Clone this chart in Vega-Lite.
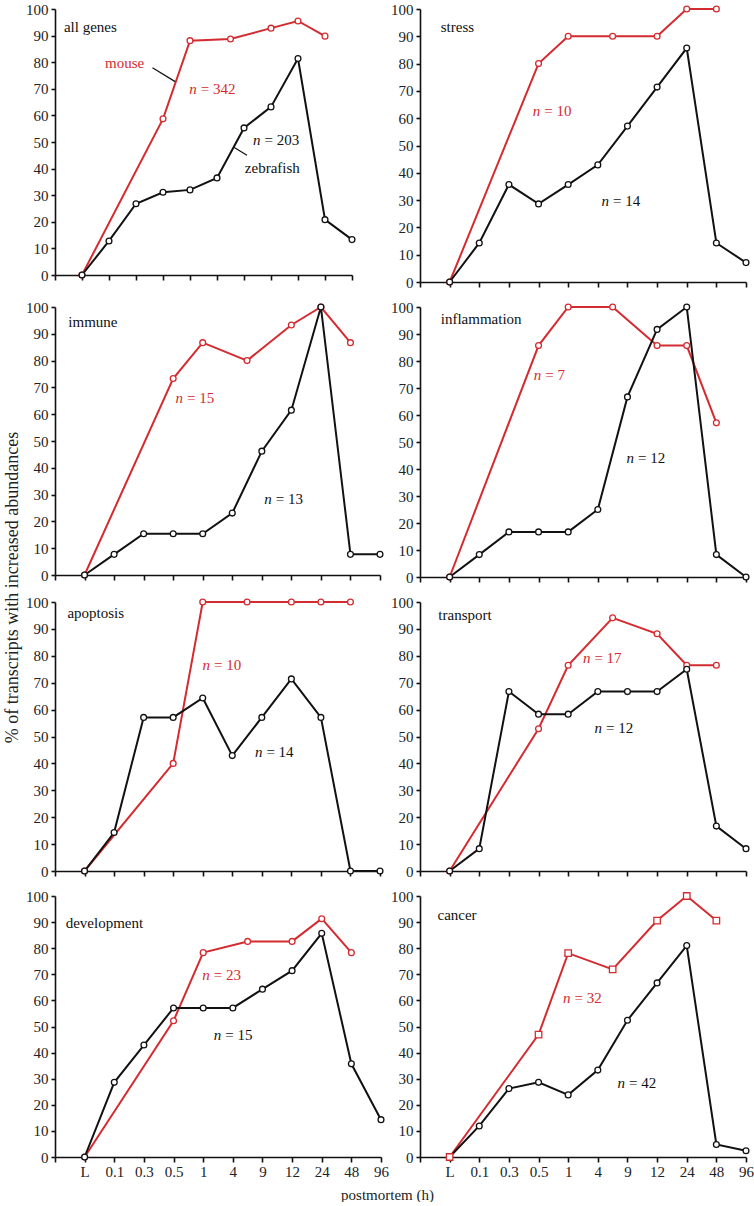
{
"$schema":"https://vega.github.io/schema/vega-lite/v6.json",
"padding":{"left":3,"top":2,"right":0,"bottom":0},
"config":{"font":"Liberation Serif","view":{"stroke":null},
"axis":{"domainColor":"#111","domainWidth":1.6,"tickColor":"#111","tickWidth":1.6,"labelFont":"Liberation Serif","labelFontSize":15,"labelColor":"#222","grid":false,"titleFont":"Liberation Serif","titleFontWeight":"normal","titleColor":"#222"}},
"datasets":{
"series":[
{"panel":"all genes","species":"mouse","pos":1,"pct":0},{"panel":"all genes","species":"mouse","pos":4,"pct":58.7},{"panel":"all genes","species":"mouse","pos":5,"pct":88.1},{"panel":"all genes","species":"mouse","pos":6.5,"pct":88.7},{"panel":"all genes","species":"mouse","pos":8,"pct":92.8},{"panel":"all genes","species":"mouse","pos":9,"pct":95.5},{"panel":"all genes","species":"mouse","pos":10,"pct":89.8},
{"panel":"all genes","species":"zebrafish","pos":1,"pct":0},{"panel":"all genes","species":"zebrafish","pos":2,"pct":12.8},{"panel":"all genes","species":"zebrafish","pos":3,"pct":26.8},{"panel":"all genes","species":"zebrafish","pos":4,"pct":31.1},{"panel":"all genes","species":"zebrafish","pos":5,"pct":32.0},{"panel":"all genes","species":"zebrafish","pos":6,"pct":36.5},{"panel":"all genes","species":"zebrafish","pos":7,"pct":55.3},{"panel":"all genes","species":"zebrafish","pos":8,"pct":63.2},{"panel":"all genes","species":"zebrafish","pos":9,"pct":81.4},{"panel":"all genes","species":"zebrafish","pos":10,"pct":20.8},{"panel":"all genes","species":"zebrafish","pos":11,"pct":13.3},
{"panel":"stress","species":"mouse","pos":1,"pct":0},{"panel":"stress","species":"mouse","pos":4,"pct":80},{"panel":"stress","species":"mouse","pos":5,"pct":90},{"panel":"stress","species":"mouse","pos":6.5,"pct":90},{"panel":"stress","species":"mouse","pos":8,"pct":90},{"panel":"stress","species":"mouse","pos":9,"pct":100},{"panel":"stress","species":"mouse","pos":10,"pct":100},
{"panel":"stress","species":"zebrafish","pos":1,"pct":0},{"panel":"stress","species":"zebrafish","pos":2,"pct":14.3},{"panel":"stress","species":"zebrafish","pos":3,"pct":35.7},{"panel":"stress","species":"zebrafish","pos":4,"pct":28.6},{"panel":"stress","species":"zebrafish","pos":5,"pct":35.7},{"panel":"stress","species":"zebrafish","pos":6,"pct":42.9},{"panel":"stress","species":"zebrafish","pos":7,"pct":57.1},{"panel":"stress","species":"zebrafish","pos":8,"pct":71.4},{"panel":"stress","species":"zebrafish","pos":9,"pct":85.7},{"panel":"stress","species":"zebrafish","pos":10,"pct":14.3},{"panel":"stress","species":"zebrafish","pos":11,"pct":7.1},
{"panel":"immune","species":"mouse","pos":1,"pct":0},{"panel":"immune","species":"mouse","pos":4,"pct":73.3},{"panel":"immune","species":"mouse","pos":5,"pct":86.7},{"panel":"immune","species":"mouse","pos":6.5,"pct":80},{"panel":"immune","species":"mouse","pos":8,"pct":93.3},{"panel":"immune","species":"mouse","pos":9,"pct":100},{"panel":"immune","species":"mouse","pos":10,"pct":86.7},
{"panel":"immune","species":"zebrafish","pos":1,"pct":0},{"panel":"immune","species":"zebrafish","pos":2,"pct":7.7},{"panel":"immune","species":"zebrafish","pos":3,"pct":15.4},{"panel":"immune","species":"zebrafish","pos":4,"pct":15.4},{"panel":"immune","species":"zebrafish","pos":5,"pct":15.4},{"panel":"immune","species":"zebrafish","pos":6,"pct":23.1},{"panel":"immune","species":"zebrafish","pos":7,"pct":46.2},{"panel":"immune","species":"zebrafish","pos":8,"pct":61.5},{"panel":"immune","species":"zebrafish","pos":9,"pct":100},{"panel":"immune","species":"zebrafish","pos":10,"pct":7.7},{"panel":"immune","species":"zebrafish","pos":11,"pct":7.7},
{"panel":"inflammation","species":"mouse","pos":1,"pct":0},{"panel":"inflammation","species":"mouse","pos":4,"pct":85.7},{"panel":"inflammation","species":"mouse","pos":5,"pct":100},{"panel":"inflammation","species":"mouse","pos":6.5,"pct":100},{"panel":"inflammation","species":"mouse","pos":8,"pct":85.7},{"panel":"inflammation","species":"mouse","pos":9,"pct":85.7},{"panel":"inflammation","species":"mouse","pos":10,"pct":57.1},
{"panel":"inflammation","species":"zebrafish","pos":1,"pct":0},{"panel":"inflammation","species":"zebrafish","pos":2,"pct":8.3},{"panel":"inflammation","species":"zebrafish","pos":3,"pct":16.7},{"panel":"inflammation","species":"zebrafish","pos":4,"pct":16.7},{"panel":"inflammation","species":"zebrafish","pos":5,"pct":16.7},{"panel":"inflammation","species":"zebrafish","pos":6,"pct":25},{"panel":"inflammation","species":"zebrafish","pos":7,"pct":66.7},{"panel":"inflammation","species":"zebrafish","pos":8,"pct":91.7},{"panel":"inflammation","species":"zebrafish","pos":9,"pct":100},{"panel":"inflammation","species":"zebrafish","pos":10,"pct":8.3},{"panel":"inflammation","species":"zebrafish","pos":11,"pct":0},
{"panel":"apoptosis","species":"mouse","pos":1,"pct":0},{"panel":"apoptosis","species":"mouse","pos":4,"pct":40},{"panel":"apoptosis","species":"mouse","pos":5,"pct":100},{"panel":"apoptosis","species":"mouse","pos":6.5,"pct":100},{"panel":"apoptosis","species":"mouse","pos":8,"pct":100},{"panel":"apoptosis","species":"mouse","pos":9,"pct":100},{"panel":"apoptosis","species":"mouse","pos":10,"pct":100},
{"panel":"apoptosis","species":"zebrafish","pos":1,"pct":0},{"panel":"apoptosis","species":"zebrafish","pos":2,"pct":14.3},{"panel":"apoptosis","species":"zebrafish","pos":3,"pct":57.1},{"panel":"apoptosis","species":"zebrafish","pos":4,"pct":57.1},{"panel":"apoptosis","species":"zebrafish","pos":5,"pct":64.3},{"panel":"apoptosis","species":"zebrafish","pos":6,"pct":42.9},{"panel":"apoptosis","species":"zebrafish","pos":7,"pct":57.1},{"panel":"apoptosis","species":"zebrafish","pos":8,"pct":71.4},{"panel":"apoptosis","species":"zebrafish","pos":9,"pct":57.1},{"panel":"apoptosis","species":"zebrafish","pos":10,"pct":0},{"panel":"apoptosis","species":"zebrafish","pos":11,"pct":0},
{"panel":"transport","species":"mouse","pos":1,"pct":0},{"panel":"transport","species":"mouse","pos":4,"pct":52.9},{"panel":"transport","species":"mouse","pos":5,"pct":76.5},{"panel":"transport","species":"mouse","pos":6.5,"pct":94.1},{"panel":"transport","species":"mouse","pos":8,"pct":88.2},{"panel":"transport","species":"mouse","pos":9,"pct":76.5},{"panel":"transport","species":"mouse","pos":10,"pct":76.5},
{"panel":"transport","species":"zebrafish","pos":1,"pct":0},{"panel":"transport","species":"zebrafish","pos":2,"pct":8.3},{"panel":"transport","species":"zebrafish","pos":3,"pct":66.7},{"panel":"transport","species":"zebrafish","pos":4,"pct":58.3},{"panel":"transport","species":"zebrafish","pos":5,"pct":58.3},{"panel":"transport","species":"zebrafish","pos":6,"pct":66.7},{"panel":"transport","species":"zebrafish","pos":7,"pct":66.7},{"panel":"transport","species":"zebrafish","pos":8,"pct":66.7},{"panel":"transport","species":"zebrafish","pos":9,"pct":75},{"panel":"transport","species":"zebrafish","pos":10,"pct":16.7},{"panel":"transport","species":"zebrafish","pos":11,"pct":8.3},
{"panel":"development","species":"mouse","pos":1,"pct":0},{"panel":"development","species":"mouse","pos":4,"pct":52.2},{"panel":"development","species":"mouse","pos":5,"pct":78.3},{"panel":"development","species":"mouse","pos":6.5,"pct":82.6},{"panel":"development","species":"mouse","pos":8,"pct":82.6},{"panel":"development","species":"mouse","pos":9,"pct":91.3},{"panel":"development","species":"mouse","pos":10,"pct":78.3},
{"panel":"development","species":"zebrafish","pos":1,"pct":0},{"panel":"development","species":"zebrafish","pos":2,"pct":28.6},{"panel":"development","species":"zebrafish","pos":3,"pct":42.9},{"panel":"development","species":"zebrafish","pos":4,"pct":57.1},{"panel":"development","species":"zebrafish","pos":5,"pct":57.1},{"panel":"development","species":"zebrafish","pos":6,"pct":57.1},{"panel":"development","species":"zebrafish","pos":7,"pct":64.3},{"panel":"development","species":"zebrafish","pos":8,"pct":71.4},{"panel":"development","species":"zebrafish","pos":9,"pct":85.7},{"panel":"development","species":"zebrafish","pos":10,"pct":35.7},{"panel":"development","species":"zebrafish","pos":11,"pct":14.3},
{"panel":"cancer","species":"mouse","pos":1,"pct":0},{"panel":"cancer","species":"mouse","pos":4,"pct":46.9},{"panel":"cancer","species":"mouse","pos":5,"pct":78.1},{"panel":"cancer","species":"mouse","pos":6.5,"pct":71.9},{"panel":"cancer","species":"mouse","pos":8,"pct":90.6},{"panel":"cancer","species":"mouse","pos":9,"pct":100},{"panel":"cancer","species":"mouse","pos":10,"pct":90.6},
{"panel":"cancer","species":"zebrafish","pos":1,"pct":0},{"panel":"cancer","species":"zebrafish","pos":2,"pct":11.9},{"panel":"cancer","species":"zebrafish","pos":3,"pct":26.2},{"panel":"cancer","species":"zebrafish","pos":4,"pct":28.6},{"panel":"cancer","species":"zebrafish","pos":5,"pct":23.8},{"panel":"cancer","species":"zebrafish","pos":6,"pct":33.3},{"panel":"cancer","species":"zebrafish","pos":7,"pct":52.4},{"panel":"cancer","species":"zebrafish","pos":8,"pct":66.7},{"panel":"cancer","species":"zebrafish","pos":9,"pct":81.0},{"panel":"cancer","species":"zebrafish","pos":10,"pct":4.8},{"panel":"cancer","species":"zebrafish","pos":11,"pct":2.4}
],
"labels":[
{"panel":"all genes","kind":"title","species":"none","pos":0.33,"pct":93.3,"text":"all genes"},
{"panel":"stress","kind":"title","species":"none","pos":0.70,"pct":93.5,"text":"stress"},
{"panel":"immune","kind":"title","species":"none","pos":0.45,"pct":94.5,"text":"immune"},
{"panel":"inflammation","kind":"title","species":"none","pos":0.70,"pct":95.7,"text":"inflammation"},
{"panel":"apoptosis","kind":"title","species":"none","pos":0.42,"pct":95.8,"text":"apoptosis"},
{"panel":"transport","kind":"title","species":"none","pos":0.62,"pct":95.3,"text":"transport"},
{"panel":"development","kind":"title","species":"none","pos":0.36,"pct":89.7,"text":"development"},
{"panel":"cancer","kind":"title","species":"none","pos":0.59,"pct":92.6,"text":"cancer"},
{"panel":"all genes","kind":"n","species":"mouse","pos":5.25,"pct":69.9,"text":"= 342"},
{"panel":"all genes","kind":"n","species":"zebrafish","pos":7.61,"pct":50.9,"text":"= 203"},
{"panel":"stress","kind":"n","species":"mouse","pos":4.06,"pct":62.5,"text":"= 10"},
{"panel":"stress","kind":"n","species":"zebrafish","pos":6.38,"pct":29.6,"text":"= 14"},
{"panel":"immune","kind":"n","species":"mouse","pos":4.33,"pct":66,"text":"= 15"},
{"panel":"immune","kind":"n","species":"zebrafish","pos":7.34,"pct":28.3,"text":"= 13"},
{"panel":"inflammation","kind":"n","species":"mouse","pos":4.09,"pct":74.8,"text":"= 7"},
{"panel":"inflammation","kind":"n","species":"zebrafish","pos":7.22,"pct":44.2,"text":"= 12"},
{"panel":"apoptosis","kind":"n","species":"mouse","pos":5.25,"pct":76.5,"text":"= 10"},
{"panel":"apoptosis","kind":"n","species":"zebrafish","pos":7.02,"pct":44.2,"text":"= 14"},
{"panel":"transport","kind":"n","species":"mouse","pos":5.75,"pct":79.1,"text":"= 17"},
{"panel":"transport","kind":"n","species":"zebrafish","pos":6.14,"pct":53.3,"text":"= 12"},
{"panel":"development","kind":"n","species":"mouse","pos":5.22,"pct":69.9,"text":"= 23"},
{"panel":"development","kind":"n","species":"zebrafish","pos":5.61,"pct":46.6,"text":"= 15"},
{"panel":"cancer","kind":"n","species":"mouse","pos":5.08,"pct":60.8,"text":"= 32"},
{"panel":"cancer","kind":"n","species":"zebrafish","pos":6.92,"pct":28.4,"text":"= 42"},
{"panel":"all genes","kind":"name","species":"mouse","pos":2.58,"pct":79.8,"text":"mouse"},
{"panel":"all genes","kind":"name","species":"zebrafish","pos":8.05,"pct":40.1,"text":"zebrafish"}
],
"leaders":[
{"panel":"all genes","pos":3.61,"pct":77.9,"pos2":4.45,"pct2":72.7},
{"panel":"all genes","pos":6.64,"pct":47.9,"pos2":7.11,"pct2":45.0}
]
},
"columns":2,
"spacing":{"row":25,"column":39},
"bounds":"flush",
"concat":[
{"width":297,"height":266,
"encoding":{"x":{"field":"pos","type":"quantitative","scale":{"domain":[0,11],"nice":false,"zero":false},"axis":{"values":[0,1,2,3,4,5,6,7,8,9,10,11],"labels":false,"title":null,"tickSize":5}},
"y":{"field":"pct","type":"quantitative","scale":{"domain":[0,100],"nice":false},"axis":{"values":[0,10,20,30,40,50,60,70,80,90,100],"title":null,"tickSize":4,"labelPadding":3}}},
"layer":[
{"data":{"name":"series"},"transform":[{"filter":"datum.panel==='all genes'"}],"mark":{"type":"line","strokeWidth":2},"encoding":{"color":{"field":"species","type":"nominal","scale":{"domain":["mouse","zebrafish"],"range":["#d42b30","#111111"]},"legend":null}}},
{"data":{"name":"series"},"transform":[{"filter":"datum.panel==='all genes'"}],"mark":{"type":"point","shape":"circle","filled":false,"fill":"white","fillOpacity":1,"size":34,"strokeWidth":1.3,"opacity":1},"encoding":{"color":{"field":"species","type":"nominal","legend":null}}},
{"data":{"name":"labels"},"transform":[{"filter":"datum.panel==='all genes' && datum.kind==='title'"}],"mark":{"type":"text","align":"left","baseline":"middle","fontSize":15,"color":"#111"},"encoding":{"text":{"field":"text"}}},
{"data":{"name":"labels"},"transform":[{"filter":"datum.panel==='all genes' && datum.kind==='name'"}],"mark":{"type":"text","align":"center","baseline":"middle","fontSize":15},"encoding":{"text":{"field":"text"},"color":{"field":"species","type":"nominal","legend":null}}},
{"data":{"name":"labels"},"transform":[{"filter":"datum.panel==='all genes' && datum.kind==='n'"}],"mark":{"type":"text","align":"right","baseline":"middle","fontSize":15,"fontStyle":"italic"},"encoding":{"text":{"value":"n"},"color":{"field":"species","type":"nominal","legend":null}}},
{"data":{"name":"labels"},"transform":[{"filter":"datum.panel==='all genes' && datum.kind==='n'"}],"mark":{"type":"text","align":"left","baseline":"middle","fontSize":15,"dx":4},"encoding":{"text":{"field":"text"},"color":{"field":"species","type":"nominal","legend":null}}},
{"data":{"name":"leaders"},"transform":[{"filter":"datum.panel==='all genes'"}],"mark":{"type":"rule","strokeWidth":1.2,"color":"#111"},"encoding":{"x2":{"field":"pos2"},"y2":{"field":"pct2"}}}
]},
{"width":326,"height":273,
"encoding":{"x":{"field":"pos","type":"quantitative","scale":{"domain":[0,11],"nice":false,"zero":false},"axis":{"values":[0,1,2,3,4,5,6,7,8,9,10,11],"labels":false,"title":null,"tickSize":5}},
"y":{"field":"pct","type":"quantitative","scale":{"domain":[0,100],"nice":false},"axis":{"values":[0,10,20,30,40,50,60,70,80,90,100],"title":null,"tickSize":4,"labelPadding":3}}},
"layer":[
{"data":{"name":"series"},"transform":[{"filter":"datum.panel==='stress'"}],"mark":{"type":"line","strokeWidth":2},"encoding":{"color":{"field":"species","type":"nominal","scale":{"domain":["mouse","zebrafish"],"range":["#d42b30","#111111"]},"legend":null}}},
{"data":{"name":"series"},"transform":[{"filter":"datum.panel==='stress'"}],"mark":{"type":"point","shape":"circle","filled":false,"fill":"white","fillOpacity":1,"size":34,"strokeWidth":1.3,"opacity":1},"encoding":{"color":{"field":"species","type":"nominal","legend":null}}},
{"data":{"name":"labels"},"transform":[{"filter":"datum.panel==='stress' && datum.kind==='title'"}],"mark":{"type":"text","align":"left","baseline":"middle","fontSize":15,"color":"#111"},"encoding":{"text":{"field":"text"}}},
{"data":{"name":"labels"},"transform":[{"filter":"datum.panel==='stress' && datum.kind==='n'"}],"mark":{"type":"text","align":"right","baseline":"middle","fontSize":15,"fontStyle":"italic"},"encoding":{"text":{"value":"n"},"color":{"field":"species","type":"nominal","legend":null}}},
{"data":{"name":"labels"},"transform":[{"filter":"datum.panel==='stress' && datum.kind==='n'"}],"mark":{"type":"text","align":"left","baseline":"middle","fontSize":15,"dx":4},"encoding":{"text":{"field":"text"},"color":{"field":"species","type":"nominal","legend":null}}}
]},
{"width":325,"height":268,
"encoding":{"x":{"field":"pos","type":"quantitative","scale":{"domain":[0,11],"nice":false,"zero":false},"axis":{"values":[0,1,2,3,4,5,6,7,8,9,10,11],"labels":false,"title":null,"tickSize":5}},
"y":{"field":"pct","type":"quantitative","scale":{"domain":[0,100],"nice":false},"axis":{"values":[0,10,20,30,40,50,60,70,80,90,100],"title":null,"tickSize":4,"labelPadding":3}}},
"layer":[
{"data":{"name":"series"},"transform":[{"filter":"datum.panel==='immune'"}],"mark":{"type":"line","strokeWidth":2},"encoding":{"color":{"field":"species","type":"nominal","scale":{"domain":["mouse","zebrafish"],"range":["#d42b30","#111111"]},"legend":null}}},
{"data":{"name":"series"},"transform":[{"filter":"datum.panel==='immune'"}],"mark":{"type":"point","shape":"circle","filled":false,"fill":"white","fillOpacity":1,"size":34,"strokeWidth":1.3,"opacity":1},"encoding":{"color":{"field":"species","type":"nominal","legend":null}}},
{"data":{"name":"labels"},"transform":[{"filter":"datum.panel==='immune' && datum.kind==='title'"}],"mark":{"type":"text","align":"left","baseline":"middle","fontSize":15,"color":"#111"},"encoding":{"text":{"field":"text"}}},
{"data":{"name":"labels"},"transform":[{"filter":"datum.panel==='immune' && datum.kind==='n'"}],"mark":{"type":"text","align":"right","baseline":"middle","fontSize":15,"fontStyle":"italic"},"encoding":{"text":{"value":"n"},"color":{"field":"species","type":"nominal","legend":null}}},
{"data":{"name":"labels"},"transform":[{"filter":"datum.panel==='immune' && datum.kind==='n'"}],"mark":{"type":"text","align":"left","baseline":"middle","fontSize":15,"dx":4},"encoding":{"text":{"field":"text"},"color":{"field":"species","type":"nominal","legend":null}}}
]},
{"width":326,"height":270,
"encoding":{"x":{"field":"pos","type":"quantitative","scale":{"domain":[0,11],"nice":false,"zero":false},"axis":{"values":[0,1,2,3,4,5,6,7,8,9,10,11],"labels":false,"title":null,"tickSize":5}},
"y":{"field":"pct","type":"quantitative","scale":{"domain":[0,100],"nice":false},"axis":{"values":[0,10,20,30,40,50,60,70,80,90,100],"title":null,"tickSize":4,"labelPadding":3}}},
"layer":[
{"data":{"name":"series"},"transform":[{"filter":"datum.panel==='inflammation'"}],"mark":{"type":"line","strokeWidth":2},"encoding":{"color":{"field":"species","type":"nominal","scale":{"domain":["mouse","zebrafish"],"range":["#d42b30","#111111"]},"legend":null}}},
{"data":{"name":"series"},"transform":[{"filter":"datum.panel==='inflammation'"}],"mark":{"type":"point","shape":"circle","filled":false,"fill":"white","fillOpacity":1,"size":34,"strokeWidth":1.3,"opacity":1},"encoding":{"color":{"field":"species","type":"nominal","legend":null}}},
{"data":{"name":"labels"},"transform":[{"filter":"datum.panel==='inflammation' && datum.kind==='title'"}],"mark":{"type":"text","align":"left","baseline":"middle","fontSize":15,"color":"#111"},"encoding":{"text":{"field":"text"}}},
{"data":{"name":"labels"},"transform":[{"filter":"datum.panel==='inflammation' && datum.kind==='n'"}],"mark":{"type":"text","align":"right","baseline":"middle","fontSize":15,"fontStyle":"italic"},"encoding":{"text":{"value":"n"},"color":{"field":"species","type":"nominal","legend":null}}},
{"data":{"name":"labels"},"transform":[{"filter":"datum.panel==='inflammation' && datum.kind==='n'"}],"mark":{"type":"text","align":"left","baseline":"middle","fontSize":15,"dx":4},"encoding":{"text":{"field":"text"},"color":{"field":"species","type":"nominal","legend":null}}}
]},
{"width":325,"height":269,
"encoding":{"x":{"field":"pos","type":"quantitative","scale":{"domain":[0,11],"nice":false,"zero":false},"axis":{"values":[0,1,2,3,4,5,6,7,8,9,10,11],"labels":false,"title":null,"tickSize":5}},
"y":{"field":"pct","type":"quantitative","scale":{"domain":[0,100],"nice":false},"axis":{"values":[0,10,20,30,40,50,60,70,80,90,100],"title":"% of transcripts with increased abundances","titleFontSize":18,"titleY":-15,"titlePadding":4,"tickSize":4,"labelPadding":3}}},
"layer":[
{"data":{"name":"series"},"transform":[{"filter":"datum.panel==='apoptosis'"}],"mark":{"type":"line","strokeWidth":2},"encoding":{"color":{"field":"species","type":"nominal","scale":{"domain":["mouse","zebrafish"],"range":["#d42b30","#111111"]},"legend":null}}},
{"data":{"name":"series"},"transform":[{"filter":"datum.panel==='apoptosis'"}],"mark":{"type":"point","shape":"circle","filled":false,"fill":"white","fillOpacity":1,"size":34,"strokeWidth":1.3,"opacity":1},"encoding":{"color":{"field":"species","type":"nominal","legend":null}}},
{"data":{"name":"labels"},"transform":[{"filter":"datum.panel==='apoptosis' && datum.kind==='title'"}],"mark":{"type":"text","align":"left","baseline":"middle","fontSize":15,"color":"#111"},"encoding":{"text":{"field":"text"}}},
{"data":{"name":"labels"},"transform":[{"filter":"datum.panel==='apoptosis' && datum.kind==='n'"}],"mark":{"type":"text","align":"right","baseline":"middle","fontSize":15,"fontStyle":"italic"},"encoding":{"text":{"value":"n"},"color":{"field":"species","type":"nominal","legend":null}}},
{"data":{"name":"labels"},"transform":[{"filter":"datum.panel==='apoptosis' && datum.kind==='n'"}],"mark":{"type":"text","align":"left","baseline":"middle","fontSize":15,"dx":4},"encoding":{"text":{"field":"text"},"color":{"field":"species","type":"nominal","legend":null}}}
]},
{"width":326,"height":269,
"encoding":{"x":{"field":"pos","type":"quantitative","scale":{"domain":[0,11],"nice":false,"zero":false},"axis":{"values":[0,1,2,3,4,5,6,7,8,9,10,11],"labels":false,"title":null,"tickSize":5}},
"y":{"field":"pct","type":"quantitative","scale":{"domain":[0,100],"nice":false},"axis":{"values":[0,10,20,30,40,50,60,70,80,90,100],"title":null,"tickSize":4,"labelPadding":3}}},
"layer":[
{"data":{"name":"series"},"transform":[{"filter":"datum.panel==='transport'"}],"mark":{"type":"line","strokeWidth":2},"encoding":{"color":{"field":"species","type":"nominal","scale":{"domain":["mouse","zebrafish"],"range":["#d42b30","#111111"]},"legend":null}}},
{"data":{"name":"series"},"transform":[{"filter":"datum.panel==='transport'"}],"mark":{"type":"point","shape":"circle","filled":false,"fill":"white","fillOpacity":1,"size":34,"strokeWidth":1.3,"opacity":1},"encoding":{"color":{"field":"species","type":"nominal","legend":null}}},
{"data":{"name":"labels"},"transform":[{"filter":"datum.panel==='transport' && datum.kind==='title'"}],"mark":{"type":"text","align":"left","baseline":"middle","fontSize":15,"color":"#111"},"encoding":{"text":{"field":"text"}}},
{"data":{"name":"labels"},"transform":[{"filter":"datum.panel==='transport' && datum.kind==='n'"}],"mark":{"type":"text","align":"right","baseline":"middle","fontSize":15,"fontStyle":"italic"},"encoding":{"text":{"value":"n"},"color":{"field":"species","type":"nominal","legend":null}}},
{"data":{"name":"labels"},"transform":[{"filter":"datum.panel==='transport' && datum.kind==='n'"}],"mark":{"type":"text","align":"left","baseline":"middle","fontSize":15,"dx":4},"encoding":{"text":{"field":"text"},"color":{"field":"species","type":"nominal","legend":null}}}
]},
{"width":326,"height":261,
"encoding":{"x":{"field":"pos","type":"quantitative","scale":{"domain":[0,11],"nice":false,"zero":false},"axis":{"values":[0,1,2,3,4,5,6,7,8,9,10,11],"labelExpr":"['','L','0.1','0.3','0.5','1','4','9','12','24','48','96'][datum.value]","labelFlush":false,"labelPadding":2,"title":"postmortem (h)","titleX":332,"titlePadding":8,"titleFontSize":15,"tickSize":5}},
"y":{"field":"pct","type":"quantitative","scale":{"domain":[0,100],"nice":false},"axis":{"values":[0,10,20,30,40,50,60,70,80,90,100],"title":null,"tickSize":4,"labelPadding":3}}},
"layer":[
{"data":{"name":"series"},"transform":[{"filter":"datum.panel==='development'"}],"mark":{"type":"line","strokeWidth":2},"encoding":{"color":{"field":"species","type":"nominal","scale":{"domain":["mouse","zebrafish"],"range":["#d42b30","#111111"]},"legend":null}}},
{"data":{"name":"series"},"transform":[{"filter":"datum.panel==='development'"}],"mark":{"type":"point","shape":"circle","filled":false,"fill":"white","fillOpacity":1,"size":34,"strokeWidth":1.3,"opacity":1},"encoding":{"color":{"field":"species","type":"nominal","legend":null}}},
{"data":{"name":"labels"},"transform":[{"filter":"datum.panel==='development' && datum.kind==='title'"}],"mark":{"type":"text","align":"left","baseline":"middle","fontSize":15,"color":"#111"},"encoding":{"text":{"field":"text"}}},
{"data":{"name":"labels"},"transform":[{"filter":"datum.panel==='development' && datum.kind==='n'"}],"mark":{"type":"text","align":"right","baseline":"middle","fontSize":15,"fontStyle":"italic"},"encoding":{"text":{"value":"n"},"color":{"field":"species","type":"nominal","legend":null}}},
{"data":{"name":"labels"},"transform":[{"filter":"datum.panel==='development' && datum.kind==='n'"}],"mark":{"type":"text","align":"left","baseline":"middle","fontSize":15,"dx":4},"encoding":{"text":{"field":"text"},"color":{"field":"species","type":"nominal","legend":null}}}
]},
{"width":326,"height":261,
"encoding":{"x":{"field":"pos","type":"quantitative","scale":{"domain":[0,11],"nice":false,"zero":false},"axis":{"values":[0,1,2,3,4,5,6,7,8,9,10,11],"labelExpr":"['','L','0.1','0.3','0.5','1','4','9','12','24','48','96'][datum.value]","labelFlush":false,"labelPadding":2,"title":null,"tickSize":5}},
"y":{"field":"pct","type":"quantitative","scale":{"domain":[0,100],"nice":false},"axis":{"values":[0,10,20,30,40,50,60,70,80,90,100],"title":null,"tickSize":4,"labelPadding":3}}},
"layer":[
{"data":{"name":"series"},"transform":[{"filter":"datum.panel==='cancer'"}],"mark":{"type":"line","strokeWidth":2},"encoding":{"color":{"field":"species","type":"nominal","scale":{"domain":["mouse","zebrafish"],"range":["#d42b30","#111111"]},"legend":null}}},
{"data":{"name":"series"},"transform":[{"filter":"datum.panel==='cancer' && datum.species==='zebrafish'"}],"mark":{"type":"point","shape":"circle","filled":false,"fill":"white","fillOpacity":1,"size":34,"strokeWidth":1.3,"opacity":1},"encoding":{"color":{"field":"species","type":"nominal","legend":null}}},
{"data":{"name":"series"},"transform":[{"filter":"datum.panel==='cancer' && datum.species==='mouse'"}],"mark":{"type":"point","shape":"square","filled":false,"fill":"white","fillOpacity":1,"size":42,"strokeWidth":1.3,"opacity":1},"encoding":{"color":{"field":"species","type":"nominal","legend":null}}},
{"data":{"name":"labels"},"transform":[{"filter":"datum.panel==='cancer' && datum.kind==='title'"}],"mark":{"type":"text","align":"left","baseline":"middle","fontSize":15,"color":"#111"},"encoding":{"text":{"field":"text"}}},
{"data":{"name":"labels"},"transform":[{"filter":"datum.panel==='cancer' && datum.kind==='n'"}],"mark":{"type":"text","align":"right","baseline":"middle","fontSize":15,"fontStyle":"italic"},"encoding":{"text":{"value":"n"},"color":{"field":"species","type":"nominal","legend":null}}},
{"data":{"name":"labels"},"transform":[{"filter":"datum.panel==='cancer' && datum.kind==='n'"}],"mark":{"type":"text","align":"left","baseline":"middle","fontSize":15,"dx":4},"encoding":{"text":{"field":"text"},"color":{"field":"species","type":"nominal","legend":null}}}
]}
]
}
